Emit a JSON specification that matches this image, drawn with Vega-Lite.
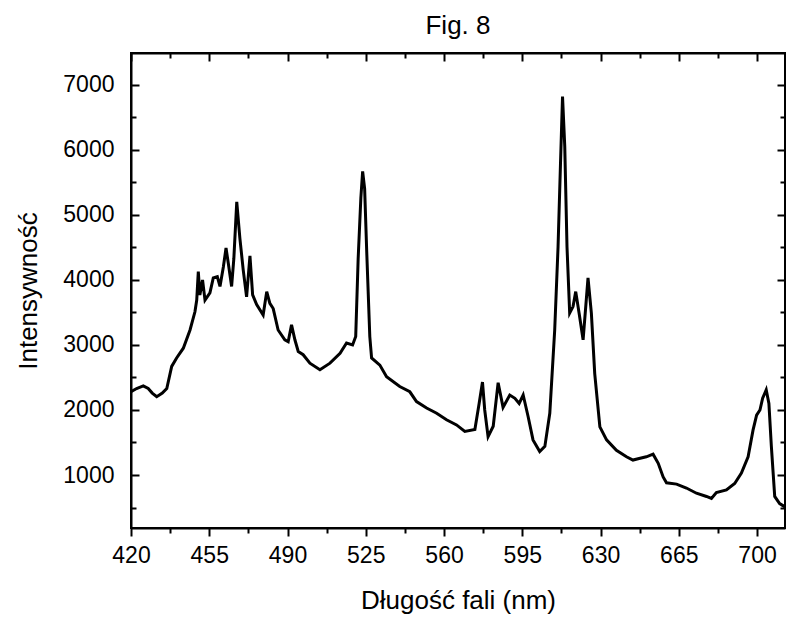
{
  "$schema": "https://vega.github.io/schema/vega-lite/v6.json",
  "width": 654,
  "height": 475,
  "autosize": {"type": "none"},
  "padding": {"left": 131, "top": 53, "right": 1, "bottom": 90},
  "background": "white",
  "title": {"text": "Fig. 8", "fontSize": 26, "font": "Liberation Sans", "fontWeight": "normal", "color": "black", "offset": 13},
  "config": {
    "view": {"stroke": "black", "strokeWidth": 2},
    "axis": {"grid": false, "domainColor": "black", "domainWidth": 2, "tickColor": "black", "tickWidth": 2, "labelColor": "black", "titleColor": "black", "labelFont": "Liberation Sans", "titleFont": "Liberation Sans", "labelFontSize": 23, "titleFontSize": 26, "titleFontWeight": "normal"}
  },
  "data": {"values": [
    {"nm": 420.0, "v": 2280}, {"nm": 422.5, "v": 2330}, {"nm": 425.5, "v": 2370}, {"nm": 427.7, "v": 2330},
    {"nm": 429.5, "v": 2260}, {"nm": 431.5, "v": 2205}, {"nm": 434.0, "v": 2260}, {"nm": 436.0, "v": 2330},
    {"nm": 438.2, "v": 2670}, {"nm": 440.4, "v": 2800}, {"nm": 443.4, "v": 2950}, {"nm": 446.4, "v": 3230},
    {"nm": 448.6, "v": 3510}, {"nm": 449.4, "v": 3690}, {"nm": 450.1, "v": 4130}, {"nm": 450.8, "v": 3770},
    {"nm": 452.0, "v": 4000}, {"nm": 453.1, "v": 3690}, {"nm": 455.3, "v": 3800}, {"nm": 456.8, "v": 4030},
    {"nm": 458.6, "v": 4050}, {"nm": 459.8, "v": 3900}, {"nm": 461.3, "v": 4200}, {"nm": 462.5, "v": 4490},
    {"nm": 463.5, "v": 4260}, {"nm": 465.0, "v": 3900}, {"nm": 466.0, "v": 4330}, {"nm": 467.3, "v": 5200},
    {"nm": 468.7, "v": 4640}, {"nm": 470.2, "v": 4150}, {"nm": 471.7, "v": 3740}, {"nm": 473.2, "v": 4370},
    {"nm": 474.4, "v": 3770}, {"nm": 476.2, "v": 3620}, {"nm": 479.1, "v": 3460}, {"nm": 480.7, "v": 3820},
    {"nm": 482.1, "v": 3640}, {"nm": 483.6, "v": 3560}, {"nm": 485.8, "v": 3230}, {"nm": 488.8, "v": 3080},
    {"nm": 490.3, "v": 3050}, {"nm": 491.8, "v": 3310}, {"nm": 493.3, "v": 3080}, {"nm": 494.8, "v": 2900},
    {"nm": 497.0, "v": 2850}, {"nm": 500.0, "v": 2720}, {"nm": 504.5, "v": 2620}, {"nm": 509.0, "v": 2720},
    {"nm": 513.5, "v": 2870}, {"nm": 516.4, "v": 3030}, {"nm": 519.1, "v": 3000}, {"nm": 520.5, "v": 3130},
    {"nm": 521.6, "v": 4330}, {"nm": 522.8, "v": 5260}, {"nm": 523.6, "v": 5670}, {"nm": 524.5, "v": 5400},
    {"nm": 525.4, "v": 4460}, {"nm": 526.8, "v": 3130}, {"nm": 527.6, "v": 2800}, {"nm": 531.3, "v": 2690},
    {"nm": 534.3, "v": 2510}, {"nm": 540.2, "v": 2360}, {"nm": 544.7, "v": 2280}, {"nm": 547.7, "v": 2130},
    {"nm": 552.2, "v": 2030}, {"nm": 556.7, "v": 1950}, {"nm": 561.1, "v": 1850}, {"nm": 565.6, "v": 1770},
    {"nm": 569.3, "v": 1670}, {"nm": 573.8, "v": 1700}, {"nm": 575.7, "v": 2100}, {"nm": 577.2, "v": 2430},
    {"nm": 578.2, "v": 2000}, {"nm": 579.7, "v": 1590}, {"nm": 582.0, "v": 1750}, {"nm": 584.2, "v": 2420},
    {"nm": 586.4, "v": 2040}, {"nm": 589.4, "v": 2230}, {"nm": 591.7, "v": 2180}, {"nm": 593.6, "v": 2100},
    {"nm": 595.4, "v": 2230}, {"nm": 597.6, "v": 1900}, {"nm": 599.8, "v": 1540}, {"nm": 602.8, "v": 1360},
    {"nm": 605.1, "v": 1440}, {"nm": 607.3, "v": 1950}, {"nm": 609.5, "v": 3230}, {"nm": 611.0, "v": 4510},
    {"nm": 612.1, "v": 5800}, {"nm": 613.0, "v": 6820}, {"nm": 614.0, "v": 6050}, {"nm": 615.0, "v": 4510},
    {"nm": 616.2, "v": 3490}, {"nm": 617.7, "v": 3590}, {"nm": 618.9, "v": 3820}, {"nm": 620.4, "v": 3490},
    {"nm": 622.2, "v": 3080}, {"nm": 624.4, "v": 4030}, {"nm": 625.9, "v": 3490}, {"nm": 627.4, "v": 2560},
    {"nm": 629.7, "v": 1740}, {"nm": 632.7, "v": 1540}, {"nm": 637.1, "v": 1380}, {"nm": 641.6, "v": 1280},
    {"nm": 644.5, "v": 1230}, {"nm": 646.8, "v": 1250}, {"nm": 650.5, "v": 1280}, {"nm": 653.5, "v": 1320},
    {"nm": 655.8, "v": 1180}, {"nm": 658.0, "v": 970}, {"nm": 659.5, "v": 880}, {"nm": 664.0, "v": 860},
    {"nm": 668.4, "v": 800}, {"nm": 672.9, "v": 720}, {"nm": 677.4, "v": 670}, {"nm": 679.6, "v": 640},
    {"nm": 681.8, "v": 730}, {"nm": 686.3, "v": 770}, {"nm": 690.0, "v": 870}, {"nm": 693.0, "v": 1030},
    {"nm": 696.0, "v": 1280}, {"nm": 698.2, "v": 1690}, {"nm": 699.8, "v": 1920}, {"nm": 701.3, "v": 2000},
    {"nm": 702.5, "v": 2180}, {"nm": 704.1, "v": 2310}, {"nm": 705.3, "v": 2100}, {"nm": 706.4, "v": 1440},
    {"nm": 707.9, "v": 670}, {"nm": 710.1, "v": 560}, {"nm": 712.5, "v": 510}
  ]},
  "layer": [
    {
      "mark": {"type": "line", "color": "black", "strokeWidth": 3, "clip": true},
      "encoding": {
        "x": {"field": "nm", "type": "quantitative", "title": "Długość fali (nm)",
          "scale": {"domain": [420, 712.5], "nice": false, "zero": false},
          "axis": {"values": [420, 437.5, 455, 472.5, 490, 507.5, 525, 542.5, 560, 577.5, 595, 612.5, 630, 647.5, 665, 682.5, 700],
            "labelExpr": "datum.value % 35 == 0 ? datum.label : ''",
            "tickSize": {"condition": {"test": "datum.value % 35 == 0", "value": 8}, "value": 5},
            "labelPadding": 8, "titlePadding": 20, "labelFlush": false}},
        "y": {"field": "v", "type": "quantitative", "title": "Intensywność",
          "scale": {"domain": [185, 7490], "nice": false, "zero": false},
          "axis": {"values": [500, 1000, 1500, 2000, 2500, 3000, 3500, 4000, 4500, 5000, 5500, 6000, 6500, 7000],
            "labelExpr": "datum.value % 1000 == 0 ? datum.label : ''",
            "tickSize": {"condition": {"test": "datum.value % 1000 == 0", "value": -8}, "value": -5},
            "labelPadding": 25, "titlePadding": 21, "format": "d"}}
      }
    },
    {
      "mark": {"type": "line", "color": "black", "strokeOpacity": 0, "clip": true},
      "encoding": {
        "x": {"field": "nm", "type": "quantitative",
          "scale": {"domain": [420, 712.5], "nice": false, "zero": false},
          "axis": {"orient": "top", "title": null, "labels": false,
            "values": [420, 437.5, 455, 472.5, 490, 507.5, 525, 542.5, 560, 577.5, 595, 612.5, 630, 647.5, 665, 682.5, 700],
            "tickSize": {"condition": {"test": "datum.value % 35 == 0", "value": -8}, "value": -5}}},
        "y": {"field": "v", "type": "quantitative",
          "scale": {"domain": [185, 7490], "nice": false, "zero": false},
          "axis": {"orient": "right", "title": null, "labels": false,
            "values": [500, 1000, 1500, 2000, 2500, 3000, 3500, 4000, 4500, 5000, 5500, 6000, 6500, 7000],
            "tickSize": {"condition": {"test": "datum.value % 1000 == 0", "value": -8}, "value": -5}}}
      }
    }
  ],
  "resolve": {"axis": {"x": "independent", "y": "independent"}}
}
